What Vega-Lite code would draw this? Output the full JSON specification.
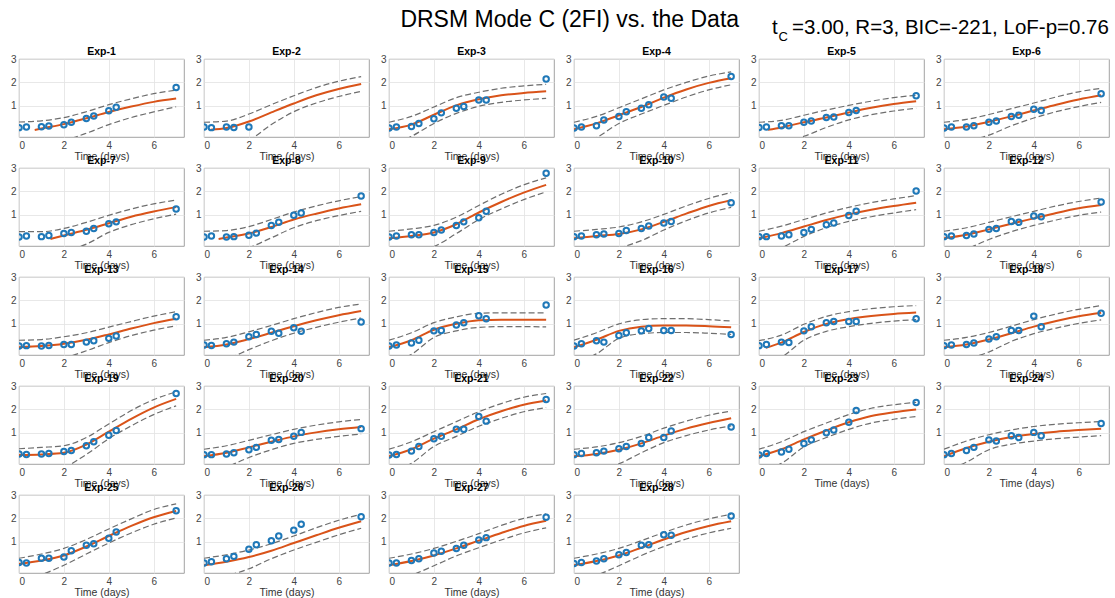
{
"$schema": "https://vega.github.io/schema/vega-lite/v6.json",
"padding": {"left": 10, "top": 8, "right": 0, "bottom": 0},
"title": {"text": "DRSM Mode C (2FI) vs. the Data", "fontSize": 23, "fontWeight": "normal", "anchor": "middle", "dx": 10, "offset": -14, "color": "#000000", "font": "Liberation Sans"},
"vconcat": [{
"title": {"text": "t\u2002\u2009=3.00, R=3, BIC=-221, LoF-p=0.76", "subtitle": "\u200b\u2002C", "anchor": "start", "dx": 762, "fontSize": 20.5, "fontWeight": "normal", "color": "#000000", "subtitleFontSize": 13, "subtitleColor": "#000000", "subtitlePadding": -7, "offset": 2, "font": "Liberation Sans", "subtitleFont": "Liberation Sans"},
"data": {"values": [
{"e":1,"t":0,"u":0.31,"l":-0.8,"y":0.07},{"e":1,"t":0.33,"y":0.1},{"e":1,"t":0.7,"f":-0.03},{"e":1,"t":1,"f":0.03,"u":0.36,"l":-0.65,"y":0.11},{"e":1,"t":1.33,"y":0.14},{"e":1,"t":2,"f":0.22,"u":0.5,"l":-0.48,"y":0.19},{"e":1,"t":2.33,"y":0.3},{"e":1,"t":3,"f":0.47,"u":0.75,"l":-0.17,"y":0.46},{"e":1,"t":3.33,"y":0.57},{"e":1,"t":4,"f":0.74,"u":1.05,"l":0.2,"y":0.79},{"e":1,"t":4.33,"y":0.94},{"e":1,"t":5,"f":0.97,"u":1.3,"l":0.5},{"e":1,"t":6,"f":1.17,"u":1.52,"l":0.74},{"e":1,"t":7,"f":1.31,"u":1.67,"l":0.96,"y":1.78},
{"e":2,"t":0,"u":0.3,"l":-0.8,"y":0.1},{"e":2,"t":0.3,"f":-0.02},{"e":2,"t":0.33,"y":0.07},{"e":2,"t":1,"f":0.05,"u":0.35,"l":-0.65,"y":0.1},{"e":2,"t":1.33,"y":0.08},{"e":2,"t":2,"f":0.33,"u":0.65,"l":-0.45,"y":0.1},{"e":2,"t":3,"f":0.72,"u":1.05,"l":0.2},{"e":2,"t":4,"f":1.1,"u":1.43,"l":0.75},{"e":2,"t":5,"f":1.45,"u":1.78,"l":1.12},{"e":2,"t":6,"f":1.72,"u":2.05,"l":1.4},{"e":2,"t":7,"f":1.93,"u":2.25,"l":1.62},
{"e":3,"t":0,"f":0,"u":0.3,"l":-0.7,"y":0.05},{"e":3,"t":0.33,"y":0.1},{"e":3,"t":1,"f":0.2,"u":0.55,"l":-0.3,"y":0.12},{"e":3,"t":1.33,"y":0.25},{"e":3,"t":2,"f":0.62,"u":0.95,"l":0.25,"y":0.45},{"e":3,"t":2.33,"y":0.7},{"e":3,"t":3,"f":1.02,"u":1.35,"l":0.68,"y":0.9},{"e":3,"t":3.33,"y":0.97},{"e":3,"t":4,"f":1.28,"u":1.58,"l":0.98,"y":1.25},{"e":3,"t":4.33,"y":1.25},{"e":3,"t":5,"f":1.45,"u":1.75,"l":1.15},{"e":3,"t":6,"f":1.55,"u":1.85,"l":1.25},{"e":3,"t":7,"f":1.62,"u":1.92,"l":1.32,"y":2.15},
{"e":4,"t":0,"f":0,"u":0.3,"l":-0.65,"y":0.05},{"e":4,"t":0.33,"y":0.1},{"e":4,"t":1,"f":0.25,"u":0.55,"l":-0.35,"y":0.15},{"e":4,"t":1.33,"y":0.4},{"e":4,"t":2,"f":0.6,"u":0.92,"l":0.25,"y":0.55},{"e":4,"t":2.33,"y":0.75},{"e":4,"t":3,"f":0.95,"u":1.3,"l":0.65,"y":0.9},{"e":4,"t":3.33,"y":1.05},{"e":4,"t":4,"f":1.35,"u":1.68,"l":1.02,"y":1.38},{"e":4,"t":4.33,"y":1.32},{"e":4,"t":5,"f":1.7,"u":2.0,"l":1.38},{"e":4,"t":6,"f":1.98,"u":2.27,"l":1.68},{"e":4,"t":7,"f":2.18,"u":2.45,"l":1.9,"y":2.25},
{"e":5,"t":0,"u":0.3,"l":-0.7,"y":0.08},{"e":5,"t":0.33,"y":0.1},{"e":5,"t":0.4,"f":-0.02},{"e":5,"t":1,"f":0.08,"u":0.38,"l":-0.55,"y":0.15},{"e":5,"t":1.33,"y":0.15},{"e":5,"t":2,"f":0.3,"u":0.6,"l":-0.3,"y":0.3},{"e":5,"t":2.33,"y":0.35},{"e":5,"t":3,"f":0.5,"u":0.82,"l":0.08,"y":0.5},{"e":5,"t":3.33,"y":0.52},{"e":5,"t":4,"f":0.72,"u":1.02,"l":0.4,"y":0.72},{"e":5,"t":4.33,"y":0.8},{"e":5,"t":5,"f":0.92,"u":1.2,"l":0.62},{"e":5,"t":6,"f":1.08,"u":1.35,"l":0.78},{"e":5,"t":7,"f":1.2,"u":1.45,"l":0.9,"y":1.43},
{"e":6,"t":0,"f":0,"u":0.3,"l":-0.65,"y":0.05},{"e":6,"t":0.33,"y":0.1},{"e":6,"t":1,"f":0.12,"u":0.42,"l":-0.5,"y":0.1},{"e":6,"t":1.33,"y":0.15},{"e":6,"t":2,"f":0.32,"u":0.63,"l":-0.25,"y":0.3},{"e":6,"t":2.33,"y":0.35},{"e":6,"t":3,"f":0.55,"u":0.88,"l":0.15,"y":0.55},{"e":6,"t":3.33,"y":0.6},{"e":6,"t":4,"f":0.8,"u":1.12,"l":0.48,"y":0.85},{"e":6,"t":4.33,"y":0.8},{"e":6,"t":5,"f":1.05,"u":1.38,"l":0.75},{"e":6,"t":6,"f":1.27,"u":1.6,"l":0.97},{"e":6,"t":7,"f":1.45,"u":1.75,"l":1.15,"y":1.52},
{"e":7,"t":0,"u":0.28,"l":-0.8,"y":0.05},{"e":7,"t":0.33,"y":0.1},{"e":7,"t":1,"u":0.28,"l":-0.75,"y":0.07},{"e":7,"t":1.33,"y":0.12},{"e":7,"t":1.4,"f":-0.03},{"e":7,"t":2,"f":0.12,"u":0.42,"l":-0.55,"y":0.2},{"e":7,"t":2.33,"y":0.25},{"e":7,"t":3,"f":0.36,"u":0.68,"l":-0.25,"y":0.3},{"e":7,"t":3.33,"y":0.42},{"e":7,"t":4,"f":0.64,"u":0.98,"l":0.25,"y":0.62},{"e":7,"t":4.33,"y":0.7},{"e":7,"t":5,"f":0.92,"u":1.25,"l":0.58},{"e":7,"t":6,"f":1.14,"u":1.47,"l":0.83},{"e":7,"t":7,"f":1.33,"u":1.63,"l":1.03,"y":1.25},
{"e":8,"t":0,"u":0.3,"l":-0.75,"y":0.05},{"e":8,"t":0.33,"y":0.1},{"e":8,"t":0.65,"f":-0.03},{"e":8,"t":1,"f":0.03,"u":0.33,"l":-0.65,"y":0.05},{"e":8,"t":1.33,"y":0.07},{"e":8,"t":2,"f":0.2,"u":0.5,"l":-0.4,"y":0.13},{"e":8,"t":2.33,"y":0.22},{"e":8,"t":3,"f":0.48,"u":0.8,"l":0.02,"y":0.55},{"e":8,"t":3.33,"y":0.68},{"e":8,"t":4,"f":0.8,"u":1.12,"l":0.45,"y":0.98},{"e":8,"t":4.33,"y":1.08},{"e":8,"t":5,"f":1.05,"u":1.38,"l":0.75},{"e":8,"t":6,"f":1.27,"u":1.6,"l":0.97},{"e":8,"t":7,"f":1.45,"u":1.78,"l":1.15,"y":1.8},
{"e":9,"t":0,"f":0,"u":0.3,"l":-0.65,"y":0.05},{"e":9,"t":0.33,"y":0.1},{"e":9,"t":1,"f":0.1,"u":0.4,"l":-0.55,"y":0.15},{"e":9,"t":1.33,"y":0.15},{"e":9,"t":2,"f":0.25,"u":0.55,"l":-0.35,"y":0.25},{"e":9,"t":2.33,"y":0.35},{"e":9,"t":3,"f":0.6,"u":0.9,"l":0.2,"y":0.55},{"e":9,"t":3.33,"y":0.7},{"e":9,"t":4,"f":1.1,"u":1.4,"l":0.8,"y":0.88},{"e":9,"t":4.33,"y":1.15},{"e":9,"t":5,"f":1.55,"u":1.88,"l":1.25},{"e":9,"t":6,"f":1.95,"u":2.28,"l":1.65},{"e":9,"t":7,"f":2.28,"u":2.58,"l":1.98,"y":2.78},
{"e":10,"t":0,"f":0,"u":0.3,"l":-0.65,"y":0.07},{"e":10,"t":0.33,"y":0.1},{"e":10,"t":1,"f":0.1,"u":0.38,"l":-0.5,"y":0.15},{"e":10,"t":1.33,"y":0.18},{"e":10,"t":2,"f":0.18,"u":0.48,"l":-0.4,"y":0.2},{"e":10,"t":2.33,"y":0.33},{"e":10,"t":3,"f":0.38,"u":0.7,"l":-0.1,"y":0.42},{"e":10,"t":3.33,"y":0.52},{"e":10,"t":4,"f":0.7,"u":1.02,"l":0.35,"y":0.65},{"e":10,"t":4.33,"y":0.72},{"e":10,"t":5,"f":1.05,"u":1.38,"l":0.75},{"e":10,"t":6,"f":1.38,"u":1.7,"l":1.08},{"e":10,"t":7,"f":1.62,"u":1.95,"l":1.32,"y":1.52},
{"e":11,"t":0,"f":0,"u":0.3,"l":-0.65,"y":0.07},{"e":11,"t":0.33,"y":0.07},{"e":11,"t":1,"f":0.22,"u":0.52,"l":-0.4,"y":0.1},{"e":11,"t":1.33,"y":0.15},{"e":11,"t":2,"f":0.5,"u":0.8,"l":0.08,"y":0.25},{"e":11,"t":2.33,"y":0.38},{"e":11,"t":3,"f":0.78,"u":1.08,"l":0.45,"y":0.58},{"e":11,"t":3.33,"y":0.65},{"e":11,"t":4,"f":1.02,"u":1.32,"l":0.72,"y":0.97},{"e":11,"t":4.33,"y":1.15},{"e":11,"t":5,"f":1.22,"u":1.52,"l":0.92},{"e":11,"t":6,"f":1.38,"u":1.68,"l":1.08},{"e":11,"t":7,"f":1.52,"u":1.82,"l":1.22,"y":2.02},
{"e":12,"t":0,"f":0,"u":0.3,"l":-0.65,"y":0.07},{"e":12,"t":0.33,"y":0.1},{"e":12,"t":1,"f":0.15,"u":0.45,"l":-0.45,"y":0.12},{"e":12,"t":1.33,"y":0.18},{"e":12,"t":2,"f":0.38,"u":0.68,"l":-0.05,"y":0.38},{"e":12,"t":2.33,"y":0.42},{"e":12,"t":3,"f":0.62,"u":0.92,"l":0.28,"y":0.72},{"e":12,"t":3.33,"y":0.68},{"e":12,"t":4,"f":0.85,"u":1.15,"l":0.55,"y":0.95},{"e":12,"t":4.33,"y":0.92},{"e":12,"t":5,"f":1.08,"u":1.38,"l":0.78},{"e":12,"t":6,"f":1.28,"u":1.57,"l":0.98},{"e":12,"t":7,"f":1.42,"u":1.72,"l":1.12,"y":1.55},
{"e":13,"t":0,"f":0,"u":0.3,"l":-0.65,"y":0.05},{"e":13,"t":0.33,"y":0.07},{"e":13,"t":1,"f":0.05,"u":0.33,"l":-0.6,"y":0.05},{"e":13,"t":1.33,"y":0.08},{"e":13,"t":2,"f":0.15,"u":0.45,"l":-0.45,"y":0.12},{"e":13,"t":2.33,"y":0.12},{"e":13,"t":3,"f":0.32,"u":0.62,"l":-0.15,"y":0.22},{"e":13,"t":3.33,"y":0.28},{"e":13,"t":4,"f":0.55,"u":0.86,"l":0.2,"y":0.38},{"e":13,"t":4.33,"y":0.48},{"e":13,"t":5,"f":0.8,"u":1.1,"l":0.5},{"e":13,"t":6,"f":1.03,"u":1.33,"l":0.73},{"e":13,"t":7,"f":1.22,"u":1.52,"l":0.92,"y":1.3},
{"e":14,"t":0,"f":0,"u":0.3,"l":-0.65,"y":0.1},{"e":14,"t":0.33,"y":0.08},{"e":14,"t":1,"f":0.12,"u":0.42,"l":-0.5,"y":0.15},{"e":14,"t":1.33,"y":0.22},{"e":14,"t":2,"f":0.35,"u":0.66,"l":-0.1,"y":0.45},{"e":14,"t":2.33,"y":0.55},{"e":14,"t":3,"f":0.62,"u":0.93,"l":0.28,"y":0.68},{"e":14,"t":3.33,"y":0.6},{"e":14,"t":4,"f":0.9,"u":1.22,"l":0.6,"y":0.83},{"e":14,"t":4.33,"y":0.68},{"e":14,"t":5,"f":1.15,"u":1.48,"l":0.85},{"e":14,"t":6,"f":1.37,"u":1.7,"l":1.07},{"e":14,"t":7,"f":1.55,"u":1.85,"l":1.25,"y":1.08},
{"e":15,"t":0,"f":0,"u":0.3,"l":-0.65,"y":0.05},{"e":15,"t":0.33,"y":0.1},{"e":15,"t":1,"f":0.3,"u":0.62,"l":-0.3,"y":0.18},{"e":15,"t":1.33,"y":0.3},{"e":15,"t":2,"f":0.75,"u":1.05,"l":0.42,"y":0.7},{"e":15,"t":2.33,"y":0.72},{"e":15,"t":3,"f":1.0,"u":1.3,"l":0.7,"y":0.95},{"e":15,"t":3.33,"y":1.05},{"e":15,"t":4,"f":1.15,"u":1.45,"l":0.85,"y":1.35},{"e":15,"t":4.33,"y":1.22},{"e":15,"t":5,"f":1.18,"u":1.47,"l":0.88},{"e":15,"t":6,"f":1.18,"u":1.47,"l":0.88},{"e":15,"t":7,"f":1.17,"u":1.47,"l":0.87,"y":1.8},
{"e":16,"t":0,"f":0,"u":0.3,"l":-0.65,"y":0.05},{"e":16,"t":0.33,"y":0.15},{"e":16,"t":1,"f":0.32,"u":0.62,"l":-0.28,"y":0.28},{"e":16,"t":1.33,"y":0.22},{"e":16,"t":2,"f":0.7,"u":1.0,"l":0.38,"y":0.5},{"e":16,"t":2.33,"y":0.62},{"e":16,"t":3,"f":0.88,"u":1.18,"l":0.58,"y":0.7},{"e":16,"t":3.33,"y":0.8},{"e":16,"t":4,"f":0.93,"u":1.22,"l":0.63,"y":0.72},{"e":16,"t":4.33,"y":0.72},{"e":16,"t":5,"f":0.93,"u":1.22,"l":0.63},{"e":16,"t":6,"f":0.9,"u":1.18,"l":0.6},{"e":16,"t":7,"f":0.85,"u":1.12,"l":0.55,"y":0.55},
{"e":17,"t":0,"u":0.28,"l":-0.72,"y":0.07},{"e":17,"t":0.3,"f":-0.02},{"e":17,"t":0.33,"y":0.12},{"e":17,"t":1,"f":0.2,"u":0.52,"l":-0.42,"y":0.22},{"e":17,"t":1.33,"y":0.2},{"e":17,"t":2,"f":0.65,"u":0.98,"l":0.3,"y":0.7},{"e":17,"t":2.33,"y":0.88},{"e":17,"t":3,"f":1.0,"u":1.32,"l":0.68,"y":1.05},{"e":17,"t":3.33,"y":1.1},{"e":17,"t":4,"f":1.2,"u":1.52,"l":0.88,"y":1.1},{"e":17,"t":4.33,"y":1.1},{"e":17,"t":5,"f":1.33,"u":1.65,"l":1.02},{"e":17,"t":6,"f":1.42,"u":1.73,"l":1.12},{"e":17,"t":7,"f":1.48,"u":1.78,"l":1.18,"y":1.22},
{"e":18,"t":0,"f":0,"u":0.3,"l":-0.65,"y":0.07},{"e":18,"t":0.33,"y":0.1},{"e":18,"t":1,"f":0.12,"u":0.42,"l":-0.5,"y":0.12},{"e":18,"t":1.33,"y":0.18},{"e":18,"t":2,"f":0.33,"u":0.63,"l":-0.2,"y":0.35},{"e":18,"t":2.33,"y":0.45},{"e":18,"t":3,"f":0.6,"u":0.9,"l":0.25,"y":0.72},{"e":18,"t":3.33,"y":0.72},{"e":18,"t":4,"f":0.88,"u":1.18,"l":0.58,"y":1.33},{"e":18,"t":4.33,"y":0.88},{"e":18,"t":5,"f":1.12,"u":1.42,"l":0.82},{"e":18,"t":6,"f":1.32,"u":1.62,"l":1.02},{"e":18,"t":7,"f":1.47,"u":1.78,"l":1.17,"y":1.45},
{"e":19,"t":0,"f":0.05,"u":0.32,"l":-0.6,"y":0.1},{"e":19,"t":0.33,"y":0.08},{"e":19,"t":1,"f":0.08,"u":0.38,"l":-0.57,"y":0.1},{"e":19,"t":1.33,"y":0.12},{"e":19,"t":2,"f":0.15,"u":0.45,"l":-0.45,"y":0.2},{"e":19,"t":2.33,"y":0.25},{"e":19,"t":3,"f":0.5,"u":0.8,"l":0.08,"y":0.45},{"e":19,"t":3.33,"y":0.62},{"e":19,"t":4,"f":1.05,"u":1.38,"l":0.75,"y":0.9},{"e":19,"t":4.33,"y":1.1},{"e":19,"t":5,"f":1.6,"u":1.95,"l":1.3},{"e":19,"t":6,"f":2.08,"u":2.42,"l":1.78},{"e":19,"t":7,"f":2.45,"u":2.75,"l":2.15,"y":2.68},
{"e":20,"t":0,"f":0,"u":0.3,"l":-0.65,"y":0.07},{"e":20,"t":0.33,"y":0.07},{"e":20,"t":1,"f":0.15,"u":0.45,"l":-0.45,"y":0.1},{"e":20,"t":1.33,"y":0.15},{"e":20,"t":2,"f":0.38,"u":0.68,"l":-0.05,"y":0.28},{"e":20,"t":2.33,"y":0.38},{"e":20,"t":3,"f":0.62,"u":0.92,"l":0.28,"y":0.68},{"e":20,"t":3.33,"y":0.72},{"e":20,"t":4,"f":0.85,"u":1.15,"l":0.55,"y":0.85},{"e":20,"t":4.33,"y":1.02},{"e":20,"t":5,"f":1.02,"u":1.33,"l":0.72},{"e":20,"t":6,"f":1.15,"u":1.47,"l":0.85},{"e":20,"t":7,"f":1.25,"u":1.57,"l":0.95,"y":1.18},
{"e":21,"t":0,"f":0,"u":0.3,"l":-0.65,"y":0.05},{"e":21,"t":0.33,"y":0.08},{"e":21,"t":1,"f":0.3,"u":0.62,"l":-0.3,"y":0.22},{"e":21,"t":1.33,"y":0.42},{"e":21,"t":2,"f":0.75,"u":1.05,"l":0.42,"y":0.75},{"e":21,"t":2.33,"y":0.85},{"e":21,"t":3,"f":1.15,"u":1.48,"l":0.85,"y":1.15},{"e":21,"t":3.33,"y":1.15},{"e":21,"t":4,"f":1.58,"u":1.9,"l":1.28,"y":1.7},{"e":21,"t":4.33,"y":1.5},{"e":21,"t":5,"f":1.92,"u":2.25,"l":1.62},{"e":21,"t":6,"f":2.2,"u":2.52,"l":1.9},{"e":21,"t":7,"f":2.38,"u":2.68,"l":2.08,"y":2.42},
{"e":22,"t":0,"f":0,"u":0.3,"l":-0.65,"y":0.07},{"e":22,"t":0.33,"y":0.12},{"e":22,"t":1,"f":0.1,"u":0.4,"l":-0.55,"y":0.15},{"e":22,"t":1.33,"y":0.22},{"e":22,"t":2,"f":0.28,"u":0.58,"l":-0.32,"y":0.32},{"e":22,"t":2.33,"y":0.42},{"e":22,"t":3,"f":0.55,"u":0.85,"l":0.15,"y":0.55},{"e":22,"t":3.33,"y":0.8},{"e":22,"t":4,"f":0.88,"u":1.2,"l":0.58,"y":0.8},{"e":22,"t":4.33,"y":1.08},{"e":22,"t":5,"f":1.18,"u":1.5,"l":0.88},{"e":22,"t":6,"f":1.42,"u":1.75,"l":1.12},{"e":22,"t":7,"f":1.62,"u":1.93,"l":1.3,"y":1.25},
{"e":23,"t":0,"f":0,"u":0.3,"l":-0.65,"y":0.05},{"e":23,"t":0.33,"y":0.12},{"e":23,"t":1,"f":0.3,"u":0.62,"l":-0.3,"y":0.18},{"e":23,"t":1.33,"y":0.3},{"e":23,"t":2,"f":0.72,"u":1.05,"l":0.4,"y":0.55},{"e":23,"t":2.33,"y":0.7},{"e":23,"t":3,"f":1.1,"u":1.42,"l":0.8,"y":1.0},{"e":23,"t":3.33,"y":1.12},{"e":23,"t":4,"f":1.45,"u":1.78,"l":1.15,"y":1.45},{"e":23,"t":4.33,"y":1.95},{"e":23,"t":5,"f":1.72,"u":2.05,"l":1.42},{"e":23,"t":6,"f":1.88,"u":2.2,"l":1.58},{"e":23,"t":7,"f":2.0,"u":2.3,"l":1.7,"y":2.3},
{"e":24,"t":0,"f":0,"u":0.3,"l":-0.65,"y":0.07},{"e":24,"t":0.33,"y":0.12},{"e":24,"t":1,"f":0.35,"u":0.65,"l":-0.25,"y":0.25},{"e":24,"t":1.33,"y":0.38},{"e":24,"t":2,"f":0.62,"u":0.92,"l":0.28,"y":0.7},{"e":24,"t":2.33,"y":0.65},{"e":24,"t":3,"f":0.82,"u":1.12,"l":0.52,"y":0.88},{"e":24,"t":3.33,"y":0.8},{"e":24,"t":4,"f":0.95,"u":1.27,"l":0.65,"y":1.02},{"e":24,"t":4.33,"y":0.88},{"e":24,"t":5,"f":1.05,"u":1.37,"l":0.75},{"e":24,"t":6,"f":1.12,"u":1.43,"l":0.82},{"e":24,"t":7,"f":1.18,"u":1.48,"l":0.88,"y":1.4},
{"e":25,"t":0,"f":0.05,"u":0.3,"l":-0.65,"y":0.12},{"e":25,"t":0.33,"y":0.1},{"e":25,"t":1,"f":0.2,"u":0.48,"l":-0.4,"y":0.3},{"e":25,"t":1.33,"y":0.3},{"e":25,"t":2,"f":0.42,"u":0.72,"l":0.0,"y":0.35},{"e":25,"t":2.33,"y":0.62},{"e":25,"t":3,"f":0.8,"u":1.1,"l":0.48,"y":0.85},{"e":25,"t":3.33,"y":0.92},{"e":25,"t":4,"f":1.25,"u":1.55,"l":0.95,"y":1.15},{"e":25,"t":4.33,"y":1.42},{"e":25,"t":5,"f":1.68,"u":1.98,"l":1.38},{"e":25,"t":6,"f":2.05,"u":2.38,"l":1.75},{"e":25,"t":7,"f":2.32,"u":2.62,"l":2.02,"y":2.33},
{"e":26,"t":0,"f":0,"u":0.3,"l":-0.65,"y":0.1},{"e":26,"t":0.33,"y":0.15},{"e":26,"t":1,"f":0.15,"u":0.45,"l":-0.45,"y":0.28},{"e":26,"t":1.33,"y":0.38},{"e":26,"t":2,"f":0.35,"u":0.65,"l":-0.15,"y":0.68},{"e":26,"t":2.33,"y":0.88},{"e":26,"t":3,"f":0.62,"u":0.92,"l":0.28,"y":1.05},{"e":26,"t":3.33,"y":1.25},{"e":26,"t":4,"f":0.95,"u":1.25,"l":0.65,"y":1.5},{"e":26,"t":4.33,"y":1.75},{"e":26,"t":5,"f":1.28,"u":1.6,"l":0.98},{"e":26,"t":6,"f":1.6,"u":1.92,"l":1.3},{"e":26,"t":7,"f":1.88,"u":2.18,"l":1.58,"y":2.07},
{"e":27,"t":0,"f":0,"u":0.3,"l":-0.65,"y":0.1},{"e":27,"t":0.33,"y":0.1},{"e":27,"t":1,"f":0.18,"u":0.48,"l":-0.42,"y":0.2},{"e":27,"t":1.33,"y":0.28},{"e":27,"t":2,"f":0.42,"u":0.72,"l":-0.02,"y":0.52},{"e":27,"t":2.33,"y":0.6},{"e":27,"t":3,"f":0.72,"u":1.02,"l":0.4,"y":0.72},{"e":27,"t":3.33,"y":0.85},{"e":27,"t":4,"f":1.05,"u":1.35,"l":0.75,"y":1.08},{"e":27,"t":4.33,"y":1.18},{"e":27,"t":5,"f":1.38,"u":1.7,"l":1.08},{"e":27,"t":6,"f":1.68,"u":2.0,"l":1.38},{"e":27,"t":7,"f":1.9,"u":2.2,"l":1.6,"y":2.05},
{"e":28,"t":0,"f":0,"u":0.3,"l":-0.65,"y":0.08},{"e":28,"t":0.33,"y":0.12},{"e":28,"t":1,"f":0.18,"u":0.48,"l":-0.42,"y":0.18},{"e":28,"t":1.33,"y":0.28},{"e":28,"t":2,"f":0.42,"u":0.72,"l":-0.02,"y":0.45},{"e":28,"t":2.33,"y":0.55},{"e":28,"t":3,"f":0.75,"u":1.05,"l":0.42,"y":0.85},{"e":28,"t":3.33,"y":0.88},{"e":28,"t":4,"f":1.1,"u":1.4,"l":0.8,"y":1.3},{"e":28,"t":4.33,"y":1.28},{"e":28,"t":5,"f":1.42,"u":1.72,"l":1.12},{"e":28,"t":6,"f":1.68,"u":1.98,"l":1.38},{"e":28,"t":7,"f":1.88,"u":2.18,"l":1.58,"y":2.1}
]},
"facet": {"field": "e", "type": "ordinal", "header": {"labelExpr": "'Exp-' + datum.value", "title": null}},
"columns": 6,
"spacing": {"row": -7, "column": 10},
"spec": {
  "width": 165,
  "height": 78,
  "encoding": {
    "x": {"field": "t", "type": "quantitative", "scale": {"domain": [0, 7.35], "nice": false, "zero": false}, "axis": {"values": [0, 2, 4, 6], "title": "Time (days)", "labelOverlap": false}}
  },
  "layer": [
    {"transform": [{"filter": "isValid(datum.u)"}], "mark": {"type": "line", "clip": true, "interpolate": "monotone", "color": "#6e6e6e", "strokeWidth": 1.2, "strokeDash": [6, 3]},
     "encoding": {"y": {"field": "u", "type": "quantitative", "scale": {"domain": [-0.33, 3], "nice": false, "zero": false}, "axis": {"values": [1, 2, 3], "labelOverlap": false}, "title": null}}},
    {"transform": [{"filter": "isValid(datum.l)"}], "mark": {"type": "line", "clip": true, "interpolate": "monotone", "color": "#6e6e6e", "strokeWidth": 1.2, "strokeDash": [6, 3]},
     "encoding": {"y": {"field": "l", "type": "quantitative", "axis": {"values": [1, 2, 3], "labelOverlap": false}, "title": null}}},
    {"transform": [{"filter": "isValid(datum.f)"}], "mark": {"type": "line", "clip": true, "interpolate": "monotone", "color": "#D95319", "strokeWidth": 2},
     "encoding": {"y": {"field": "f", "type": "quantitative", "axis": {"values": [1, 2, 3], "labelOverlap": false}, "title": null}}},
    {"transform": [{"filter": "isValid(datum.y)"}], "mark": {"type": "point", "shape": "circle", "filled": false, "color": "#1f78b8", "strokeWidth": 2, "size": 30, "clip": true, "opacity": 1},
     "encoding": {"y": {"field": "y", "type": "quantitative", "axis": {"values": [1, 2, 3], "labelOverlap": false}, "title": null}}}
  ]
},
"resolve": {"axis": {"x": "independent", "y": "independent"}}
}],
"config": {
  "font": "Liberation Sans",
  "view": {"stroke": "#8c8c8c", "strokeWidth": 0.8},
  "axis": {"grid": true, "gridColor": "#e2e2e2", "gridWidth": 0.8, "domain": false, "ticks": false, "labelFontSize": 10, "labelColor": "#444444", "labelPadding": 3, "titleFontSize": 10.5, "titleFontWeight": "normal", "titleColor": "#333333", "titlePadding": 1},
  "header": {"labelFontSize": 10.5, "labelFontWeight": "bold", "labelPadding": -3, "labelColor": "#000000"}
}
}
